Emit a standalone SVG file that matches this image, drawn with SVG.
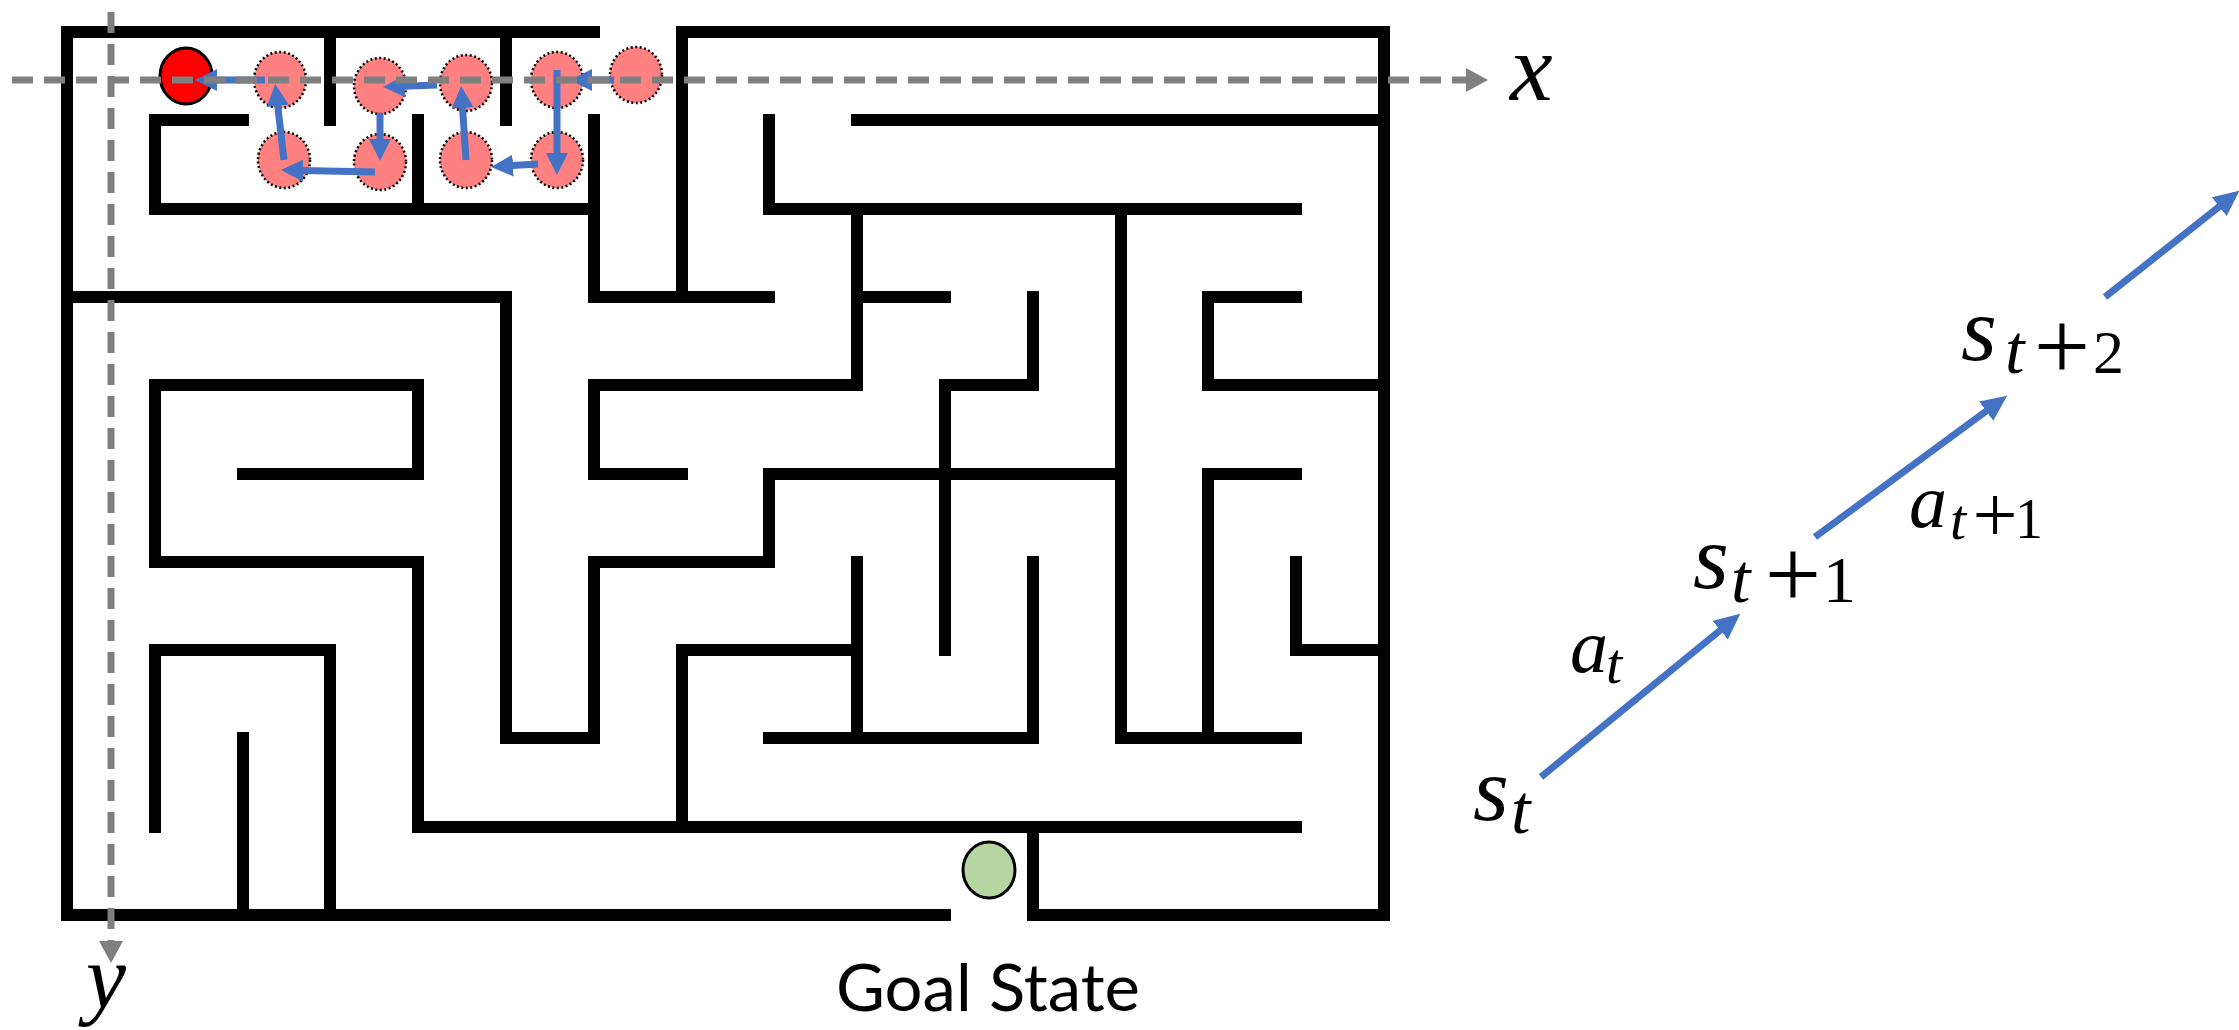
<svg xmlns="http://www.w3.org/2000/svg" width="2239" height="1030" viewBox="0 0 2239 1030">
<style>
.wall{fill:none;stroke:#000;stroke-width:12;stroke-linecap:square;stroke-linejoin:miter}
.pink{fill:#FF8080;stroke:#000;stroke-width:2.5;stroke-dasharray:2 2.5}
.blue{fill:none;stroke:#4472C4;stroke-width:7}
.axis{fill:none;stroke:#7F7F7F;stroke-width:7;stroke-dasharray:21 11}
.mf{font-family:'Times New Roman','Liberation Serif','DejaVu Serif',serif}
</style>
<defs>
<marker id="hm" markerUnits="userSpaceOnUse" markerWidth="22" markerHeight="22" refX="1" refY="11" orient="auto" viewBox="0 0 22 22"><path d="M0,0 L22,11 L0,22 z" fill="#4472C4"/></marker>
<marker id="hr" markerUnits="userSpaceOnUse" markerWidth="26" markerHeight="24" refX="1" refY="12" orient="auto" viewBox="0 0 26 24"><path d="M0,0 L26,12 L0,24 z" fill="#4472C4"/></marker>
<marker id="ha" markerUnits="userSpaceOnUse" markerWidth="22" markerHeight="24" refX="1" refY="12" orient="auto" viewBox="0 0 22 24"><path d="M0,0 L22,12 L0,24 z" fill="#7F7F7F"/></marker>
</defs>
<rect width="2239" height="1030" fill="#fff"/>
<g id="maze">
<path class="wall" d="M594 32 H67 V915 H945"/>
<path class="wall" d="M682 297 V32 H1384 V915 H1033 V827"/>
<path class="wall" d="M418 562 V827 H1296"/>
<path class="wall" d="M330 32 V120"/>
<path class="wall" d="M506 32 V120"/>
<path class="wall" d="M243 120 H155 V209 H594"/>
<path class="wall" d="M418 120 V209"/>
<path class="wall" d="M594 120 V297 H769"/>
<path class="wall" d="M67 297 H506 V738 H594 V562 H769 V474 H1121"/>
<path class="wall" d="M243 474 H418 V385 H155 V562 H418"/>
<path class="wall" d="M155 827 V650 H330 V915"/>
<path class="wall" d="M243 738 V915"/>
<path class="wall" d="M682 474 H594 V385 H857 V209"/>
<path class="wall" d="M769 120 V209 H1296"/>
<path class="wall" d="M857 120 H1384"/>
<path class="wall" d="M857 297 H945"/>
<path class="wall" d="M1033 297 V385 H945 V650"/>
<path class="wall" d="M1121 209 V738 H1296"/>
<path class="wall" d="M682 827 V650 H857"/>
<path class="wall" d="M857 562 V738"/>
<path class="wall" d="M769 738 H1033 V562"/>
<path class="wall" d="M1296 297 H1208 V385 H1384"/>
<path class="wall" d="M1296 474 H1208 V738"/>
<path class="wall" d="M1296 562 V650 H1384"/>
</g>
<g id="start">
<ellipse cx="186" cy="76" rx="26" ry="28" fill="#FF0000" stroke="#000" stroke-width="3"/>
</g>
<g id="visited">
<ellipse class="pink" cx="280" cy="80" rx="26" ry="28"/>
<ellipse class="pink" cx="380" cy="86" rx="26" ry="28"/>
<ellipse class="pink" cx="466" cy="83" rx="26" ry="28"/>
<ellipse class="pink" cx="557" cy="80" rx="26" ry="28"/>
<ellipse class="pink" cx="636" cy="75" rx="26" ry="28"/>
<ellipse class="pink" cx="284" cy="160" rx="26" ry="28"/>
<ellipse class="pink" cx="380" cy="162" rx="26" ry="28"/>
<ellipse class="pink" cx="466" cy="160" rx="26" ry="28"/>
<ellipse class="pink" cx="557" cy="160" rx="26" ry="28"/>
</g>
<g id="goal">
<ellipse cx="989" cy="870" rx="26" ry="28" fill="#B5D6A0" stroke="#000" stroke-width="3"/>
<text x="836" y="1011" font-family="Lato, 'Open Sans', sans-serif" font-size="66" textLength="304" lengthAdjust="spacingAndGlyphs">Goal State</text>
</g>
<g id="connectors">
<line class="blue" x1="614" y1="80" x2="591" y2="80" marker-end="url(#hm)"/>
<line class="blue" x1="557" y1="70" x2="557" y2="154" marker-end="url(#hm)"/>
<line class="blue" x1="538" y1="164" x2="512" y2="165.6" marker-end="url(#hm)"/>
<line class="blue" x1="466" y1="160" x2="462.5" y2="107" marker-end="url(#hm)"/>
<line class="blue" x1="437" y1="85" x2="404" y2="86.2" marker-end="url(#hm)"/>
<line class="blue" x1="380" y1="113" x2="380" y2="140" marker-end="url(#hm)"/>
<line class="blue" x1="375" y1="172" x2="302" y2="170.5" marker-end="url(#hm)"/>
<line class="blue" x1="284" y1="160" x2="277.6" y2="104.8" marker-end="url(#hm)"/>
<line class="blue" x1="265" y1="80" x2="216" y2="80" marker-end="url(#hm)"/>
<line class="blue" x1="1541" y1="777" x2="1721" y2="629.6" marker-end="url(#hr)"/>
<line class="blue" x1="1815" y1="537" x2="1987" y2="410.5" marker-end="url(#hr)"/>
<line class="blue" x1="2105" y1="297" x2="2220" y2="206" marker-end="url(#hr)"/>
</g>
<g id="axes">
<line class="axis" x1="12" y1="80" x2="1467" y2="80" marker-end="url(#ha)"/>
<line class="axis" x1="111" y1="12" x2="111" y2="942" marker-end="url(#ha)"/>
<text class="mf" x="1510" y="100" font-style="italic" font-size="96">x</text>
<text class="mf" x="86" y="1008" font-style="italic" font-size="90">y</text>
</g>
<g id="s_t" class="mf">
<text class="mf" x="1473" y="820" font-style="italic" font-size="92">s</text>
<text class="mf" x="1511" y="833" font-style="italic" font-size="70">t</text>
</g>
<g id="a_t" class="mf">
<text class="mf" x="1570" y="672" font-style="italic" font-size="76">a</text>
<text class="mf" x="1606" y="683" font-style="italic" font-size="58">t</text>
</g>
<g id="s_t1" class="mf">
<text class="mf" x="1693" y="588" font-style="italic" font-size="92">s</text>
<text class="mf" x="1731" y="602" font-style="italic" font-size="70">t</text>
<text class="mf" x="1793" y="608" font-size="100" text-anchor="middle">+</text>
<text class="mf" x="1823" y="602" font-size="66">1</text>
</g>
<g id="a_t1" class="mf">
<text class="mf" x="1909" y="527" font-style="italic" font-size="76">a</text>
<text class="mf" x="1950" y="539" font-style="italic" font-size="58">t</text>
<text class="mf" x="1995" y="542" font-size="80" text-anchor="middle">+</text>
<text class="mf" x="2015" y="538" font-size="56">1</text>
</g>
<g id="s_t2" class="mf">
<text class="mf" x="1961" y="360" font-style="italic" font-size="92">s</text>
<text class="mf" x="2005" y="373" font-style="italic" font-size="70">t</text>
<text class="mf" x="2062" y="380" font-size="100" text-anchor="middle">+</text>
<text class="mf" x="2093" y="373" font-size="62">2</text>
</g>
</svg>
